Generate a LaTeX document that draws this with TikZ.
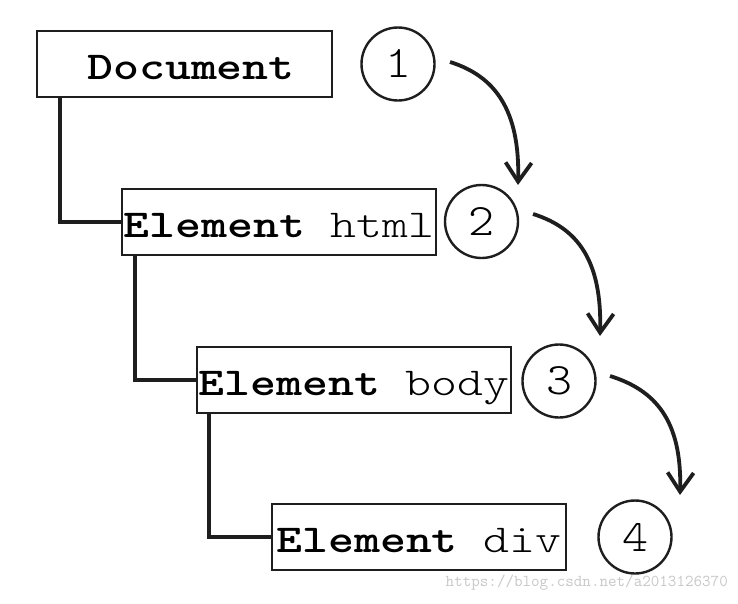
\documentclass[tikz,border=0pt]{standalone}
\usepackage{fontspec}
\newfontfamily\cour{lmmonolt10-regular.otf}[BoldFont=lmmonolt10-bold.otf, FakeStretch=1.25]
\newfontfamily\courdig{lmmonolt10-regular.otf}[FakeStretch=1.1]
\usetikzlibrary{arrows.meta,calc}
\definecolor{ink}{HTML}{1E1E1E}
\definecolor{wm}{HTML}{C8C8C8}
\begin{document}
\begin{tikzpicture}[x=1pt,y=-1pt,
  box/.style={draw=ink, line width=2.7pt, minimum height=66pt, inner sep=0pt,
    text height=30pt, text depth=0pt, font=\fontsize{39.5}{39.5}\selectfont\cour},
  num/.style={draw=ink, circle, line width=2.4pt, minimum size=73pt, inner sep=0pt,
    font=\fontsize{45}{45}\selectfont\courdig},
  tree/.style={draw=ink, line width=3.8pt},
  flow/.style={draw=ink, line width=3.8pt, -{Straight Barb[length=19pt,width=26pt]}}]
\fill[white] (0,0) rectangle (738,603);
\node[box, minimum width=295pt] (doc) at (184.5,64) {\hspace*{13pt}\textbf{Document}};
\node[box, minimum width=314pt] (html) at (279,222) {\textbf{Element} html};
\node[box, minimum width=314pt] (body) at (354,380) {\textbf{Element} body};
\node[box, minimum width=294pt] (div) at (419,537) {\textbf{Element} div};
\node[num] (c1) at (398,64) {1};
\node[num] (c2) at (481.5,221.5) {2};
\node[num] (c3) at (559,381) {3};
\node[num] (c4) at (635,537) {4};
\draw[tree] ([xshift=24pt]doc.south west) |- (html.west);
\draw[tree] ([xshift=14pt]html.south west) |- (body.west);
\draw[tree] ([xshift=13pt]body.south west) |- (div.west);
\coordinate (s1) at ($(c1)+(52,-2)$);
\coordinate (e1) at ($(c2)+(36.5,-36.5)$);
\coordinate (s2) at ($(c2)+(51.5,-7.5)$);
\coordinate (e2) at ($(c3)+(41,-45)$);
\coordinate (s3) at ($(c3)+(51,-5)$);
\coordinate (e3) at ($(c4)+(45,-42)$);
\draw[flow] (s1) .. controls ($(s1)+(45,14)$) and ($(e1)+(2,-75)$) .. (e1);
\draw[flow] (s2) .. controls ($(s2)+(45,14)$) and ($(e2)+(2,-75)$) .. (e2);
\draw[flow] (s3) .. controls ($(s3)+(45,14)$) and ($(e3)+(2,-75)$) .. (e3);
\node[anchor=east, text=wm, font=\fontsize{16.6}{16.6}\selectfont\ttfamily, inner sep=0pt] (wmk) at (728,583) {https://blog.csdn.net/a2013126370};
\end{tikzpicture}
\end{document}
